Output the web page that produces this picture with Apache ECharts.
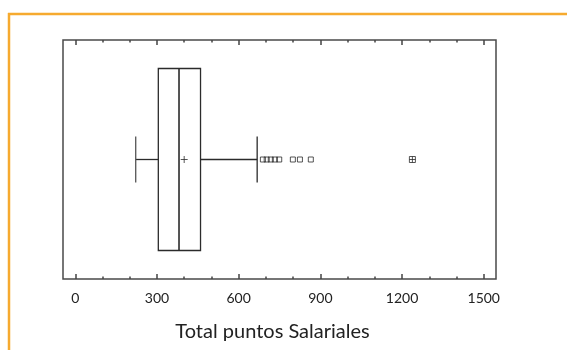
<!DOCTYPE html>
<html>
<head>
<meta charset="utf-8">
<script src="https://cdn.jsdelivr.net/npm/echarts@6/dist/echarts.min.js"></script>
<style>
  html, body { margin: 0; padding: 0; background: #fff; }
  #chart { width: 567px; height: 350px; }
</style>
</head>
<body>
<div id="chart"></div>
<script>
// five-number summary: lower whisker, Q1, median, Q3, upper whisker
var boxStats = [222, 305, 381, 460, 668];
var meanValue = [400];
var outliers = [689, 703, 718, 733, 749, 799, 825, 865];
var farOutliers = [1238];
var majorTicks = [0, 300, 600, 900, 1200, 1500];
var minorTicks = [100, 200, 400, 500, 700, 800, 1000, 1100, 1300, 1400];
var axisName = 'Total puntos Salariales';

var chart = echarts.init(document.getElementById('chart'));
var ink = '#2b2b2b';
var font = 'Lato';

function tickAxis(position, values, len, showLabel) {
    return {
        type: 'value',
        position: position,
        min: -45,
        max: 1545,
        axisLine: { show: false },
        splitLine: { show: false },
        axisTick: {
            show: true,
            inside: true,
            length: len,
            customValues: values,
            lineStyle: { color: '#444', width: 1.5 }
        },
        axisLabel: {
            show: showLabel,
            customValues: values,
            formatter: function (v) { return String(v); },
            margin: 12,
            color: '#222',
            fontSize: 14,
            fontFamily: font
        }
    };
}

var xMain = tickAxis('bottom', majorTicks, 5, true);
xMain.name = axisName;
xMain.nameLocation = 'middle';
xMain.nameGap = 43;
xMain.nameTextStyle = { color: '#222', fontSize: 20, fontFamily: font, padding: [0, 14, 0, 0] };

chart.setOption({
    animation: false,
    grid: {
        left: 63, right: 71, top: 40, bottom: 71,
        show: true,
        borderColor: '#4a4a4a',
        borderWidth: 1.5,
        backgroundColor: '#fff'
    },
    graphic: [
        { type: 'line', shape: { x1: 8, y1: 14, x2: 567, y2: 14 }, style: { stroke: '#F6AA2F', lineWidth: 2.5 } },
        { type: 'line', shape: { x1: 9, y1: 13, x2: 9, y2: 350 }, style: { stroke: '#F6AA2F', lineWidth: 2.5 } }
    ],
    xAxis: [
        xMain,
        tickAxis('bottom', minorTicks, 2.5, false),
        tickAxis('top', majorTicks, 5, false),
        tickAxis('top', minorTicks, 2.5, false)
    ],
    yAxis: {
        type: 'category',
        data: [axisName],
        show: false
    },
    series: [
        {
            type: 'custom',
            xAxisIndex: 0,
            data: [boxStats],
            renderItem: function (params, api) {
                var lo = api.coord([api.value(0), 0]);
                var q1 = api.coord([api.value(1), 0]);
                var md = api.coord([api.value(2), 0]);
                var q3 = api.coord([api.value(3), 0]);
                var hi = api.coord([api.value(4), 0]);
                var cy = lo[1];
                var bh = 91, ch = 23;
                var st = { stroke: ink, lineWidth: 1.3, fill: null };
                return {
                    type: 'group',
                    children: [
                        { type: 'rect', shape: { x: q1[0], y: cy - bh, width: q3[0] - q1[0], height: 2 * bh }, style: { stroke: ink, lineWidth: 1.3, fill: '#fff' } },
                        { type: 'line', shape: { x1: md[0], y1: cy - bh, x2: md[0], y2: cy + bh }, style: { stroke: ink, lineWidth: 1.6 } },
                        { type: 'line', shape: { x1: lo[0], y1: cy, x2: q1[0], y2: cy }, style: st },
                        { type: 'line', shape: { x1: q3[0], y1: cy, x2: hi[0], y2: cy }, style: st },
                        { type: 'line', shape: { x1: lo[0], y1: cy - ch, x2: lo[0], y2: cy + ch }, style: { stroke: '#555', lineWidth: 1.3 } },
                        { type: 'line', shape: { x1: hi[0], y1: cy - ch, x2: hi[0], y2: cy + ch }, style: st }
                    ]
                };
            }
        },
        {
            type: 'scatter',
            xAxisIndex: 0,
            data: meanValue.map(function (v) { return [v, 0]; }),
            symbol: 'path://M0,5L10,5M5,0L5,10',
            symbolSize: 7,
            itemStyle: { color: 'transparent', borderColor: ink, borderWidth: 1 },
            z: 5
        },
        {
            type: 'scatter',
            xAxisIndex: 0,
            data: outliers.map(function (v) { return [v, 0]; }),
            symbol: 'rect',
            symbolSize: 5,
            itemStyle: { color: 'transparent', borderColor: ink, borderWidth: 1 },
            z: 5
        },
        {
            type: 'scatter',
            xAxisIndex: 0,
            data: farOutliers.map(function (v) { return [v, 0]; }),
            symbol: 'path://M0,0H10V10H0ZM5,0V10M0,5H10',
            symbolSize: 6,
            itemStyle: { color: 'transparent', borderColor: ink, borderWidth: 1 },
            z: 5
        }
    ]
});
</script>
</body>
</html>
